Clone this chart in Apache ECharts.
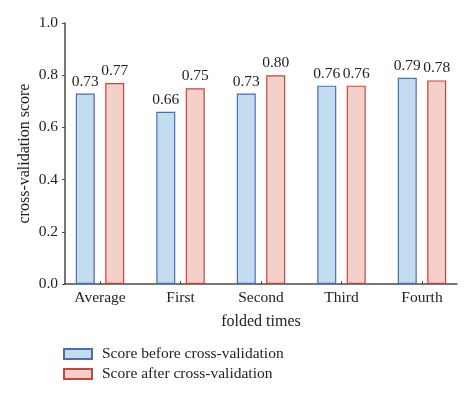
<!DOCTYPE html>
<html>
<head>
<meta charset="utf-8">
<script src="https://cdn.jsdelivr.net/npm/echarts@6/dist/echarts.min.js"></script>
<style>html,body{margin:0;padding:0;background:#fff}#c{width:474px;height:395px}</style>
</head>
<body>
<div id="c"></div>
<script>
var categories = ['Average', 'First', 'Second', 'Third', 'Fourth'];
var beforeScores = [0.73, 0.66, 0.73, 0.76, 0.79];
var afterScores = [0.77, 0.75, 0.80, 0.76, 0.78];
var yTicks = [0.0, 0.2, 0.4, 0.6, 0.8, 1.0];
var seriesNames = ['Score before cross-validation', 'Score after cross-validation'];

var FONT = 'Liberation Serif';
var catIdx = categories.map(function (c, i) { return i; });
function pairs(arr) { return arr.map(function (v, i) { return [i, v]; }); }

var chart = echarts.init(document.getElementById('c'), null, {renderer: 'canvas'});
var labelStyle = {show: true, position: 'top', distance: 4, color: '#222', fontFamily: FONT, fontSize: 15.5,
  formatter: function (p) { return p.value[1].toFixed(2); }};
chart.setOption({
  animation: false,
  textStyle: {fontFamily: FONT},
  grid: {left: 65, right: 17, top: 23, bottom: 111, containLabel: false},
  legend: {
    orient: 'vertical', left: 63, top: 346, padding: 0, itemWidth: 28, itemHeight: 10, itemGap: 4,
    icon: 'rect',
    textStyle: {fontFamily: FONT, fontSize: 15.5, color: '#222', padding: [0, 0, 0, 5]},
    data: seriesNames
  },
  xAxis: {
    type: 'value', min: -0.435, max: categories.length - 1 + 0.435,
    name: 'folded times', nameLocation: 'middle', nameGap: 30, nameMoveOverlap: false,
    nameTextStyle: {fontFamily: FONT, fontSize: 16, color: '#222'},
    splitLine: {show: false},
    axisLine: {show: true, onZero: false, lineStyle: {color: '#4a4a4a', width: 1.5}},
    axisTick: {show: true, inside: true, length: 3, customValues: catIdx, lineStyle: {color: '#4a4a4a'}},
    axisLabel: {fontFamily: FONT, fontSize: 15.5, color: '#222', margin: 6, customValues: catIdx,
      formatter: function (v) { return categories[Math.round(v)]; }}
  },
  yAxis: {
    type: 'value', min: yTicks[0], max: yTicks[yTicks.length - 1], interval: 0.2,
    name: 'cross-validation score', nameLocation: 'middle', nameGap: 32, nameMoveOverlap: false,
    nameTextStyle: {fontFamily: FONT, fontSize: 16, color: '#222'},
    axisLine: {show: true, onZero: false, lineStyle: {color: '#4a4a4a', width: 1.5}},
    axisTick: {show: true, length: 3, lineStyle: {color: '#4a4a4a'}},
    splitLine: {show: false},
    axisLabel: {fontFamily: FONT, fontSize: 15.5, color: '#222', margin: 7,
      formatter: function (v) { return v.toFixed(1); }}
  },
  series: [
    {name: seriesNames[0], type: 'bar', data: pairs(beforeScores), barWidth: 19, barGap: '55%',
      itemStyle: {color: '#c4dcf0', borderColor: '#4b6cb7', borderWidth: 1.2},
      label: labelStyle},
    {name: seriesNames[1], type: 'bar', data: pairs(afterScores), barWidth: 19, barGap: '55%',
      itemStyle: {color: '#f3d0ca', borderColor: '#c8453a', borderWidth: 1.2},
      label: labelStyle}
  ]
});
</script>
</body>
</html>
